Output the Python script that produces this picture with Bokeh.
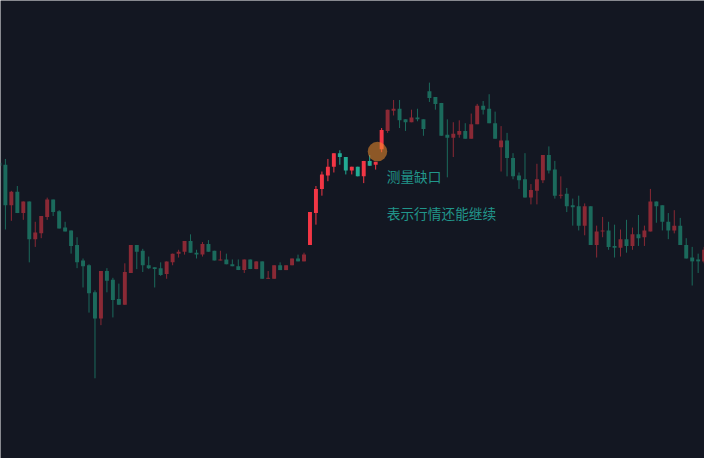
from bokeh.plotting import figure
from bokeh.models import Range1d, ColumnDataSource
from bokeh.core.properties import value
from bokeh.embed import file_html
from bokeh.resources import INLINE

# ---- data ----
opens = [30.6, 30.4, 26.2, 27.6, 25.4, 26.6, 22.7, 23.3, 25.0, 26.8,
         25.6, 23.9, 23.6, 22.1, 20.5, 20.0, 17.2, 14.5, 19.4, 18.5,
         16.5, 15.9, 19.2, 22.1, 21.5, 20.0, 19.8, 19.7, 19.1, 20.3,
         21.2, 21.4, 22.5, 21.3, 21.1, 22.2, 21.5, 20.5, 20.6, 20.1,
         19.9, 19.5, 20.6, 19.6, 20.4, 18.6, 18.6, 20.0, 19.5, 20.0,
         20.7, 20.4, 22.1, 25.4, 27.9, 29.3, 30.2, 31.6, 31.2, 29.8,
         30.2, 29.2, 30.8, 30.4, 32.0, 33.9, 36.0, 36.2, 35.1, 34.8,
         35.3, 35.1, 38.0, 37.4, 36.8, 33.5, 33.2, 33.5, 33.9, 33.1,
         34.6, 36.5, 36.2, 34.7, 32.2, 32.9, 31.1, 29.3, 28.9, 27.0,
         27.7, 28.8, 31.4, 29.9, 27.2, 27.4, 26.2, 26.1, 24.1, 26.1,
         22.1, 23.5, 23.6, 22.0, 21.8, 22.7, 22.0, 23.2, 22.9, 23.5,
         26.6, 26.2, 24.5, 23.6, 24.1, 22.1, 20.8, 20.6, 20.4]
highs = [30.8, 31.0, 27.7, 28.2, 26.6, 26.6, 24.5, 25.1, 27.0, 26.8,
         25.7, 24.5, 23.6, 22.9, 20.7, 20.1, 17.4, 19.4, 19.7, 18.7,
         18.1, 20.2, 22.1, 22.1, 21.7, 20.9, 19.8, 20.3, 20.4, 21.2,
         21.6, 22.5, 23.2, 21.6, 22.4, 22.6, 21.5, 21.5, 21.2, 20.6,
         20.6, 20.6, 20.6, 20.4, 20.4, 19.4, 20.0, 20.3, 20.0, 20.7,
         21.1, 21.3, 25.5, 28.2, 29.7, 31.0, 31.6, 31.9, 31.2, 30.2,
         30.2, 30.8, 31.4, 30.7, 34.2, 36.1, 37.1, 37.1, 35.1, 36.1,
         36.2, 35.1, 38.9, 37.4, 36.8, 35.1, 34.8, 35.0, 34.7, 35.7,
         36.7, 37.0, 37.7, 35.9, 34.4, 33.7, 31.6, 29.6, 31.6, 28.4,
         30.5, 31.4, 32.3, 30.8, 29.2, 28.0, 26.9, 27.2, 26.4, 26.1,
         24.1, 25.0, 24.5, 24.2, 23.7, 24.7, 23.9, 25.2, 24.1, 27.9,
         26.6, 26.2, 25.4, 25.7, 24.9, 22.8, 21.9, 21.2, 21.9]
lows = [30.1, 23.7, 24.6, 25.4, 24.7, 20.3, 21.9, 22.8, 24.7, 25.1,
        23.8, 23.5, 21.2, 19.7, 17.7, 15.1, 8.3, 13.8, 17.2, 14.6,
        15.9, 15.9, 19.2, 19.6, 19.3, 19.6, 17.7, 18.9, 18.6, 20.0,
        20.8, 21.1, 21.3, 20.7, 20.9, 21.4, 20.5, 20.5, 20.1, 19.9,
        19.5, 19.2, 19.6, 19.6, 18.6, 18.6, 18.6, 19.5, 19.5, 20.0,
        20.4, 20.4, 22.1, 24.2, 27.2, 28.7, 29.6, 30.4, 29.4, 29.4,
        29.2, 28.5, 30.3, 29.9, 31.7, 33.7, 35.5, 34.2, 33.9, 34.8,
        34.9, 33.4, 36.9, 36.1, 33.4, 29.1, 31.2, 33.2, 33.1, 33.1,
        34.6, 35.6, 34.7, 33.1, 29.7, 29.2, 28.9, 27.9, 27.0, 26.3,
        26.3, 28.5, 29.5, 26.9, 26.9, 25.5, 24.1, 23.6, 23.1, 22.1,
        20.8, 22.9, 21.6, 20.8, 20.9, 21.3, 21.6, 22.0, 22.0, 23.5,
        24.4, 23.6, 22.7, 23.3, 22.1, 20.7, 17.9, 19.2, 20.2]
closes = [30.3, 26.2, 27.6, 25.4, 26.6, 22.7, 23.4, 25.1, 26.8, 25.5,
          23.8, 23.5, 22.0, 20.3, 19.9, 17.1, 14.5, 19.4, 18.4, 16.4,
          15.9, 19.3, 22.1, 21.4, 20.0, 19.7, 19.6, 19.0, 20.4, 21.2,
          21.4, 22.5, 21.3, 21.1, 22.2, 21.4, 20.5, 20.6, 20.1, 19.9,
          19.5, 20.6, 19.6, 20.4, 18.6, 18.7, 20.0, 19.5, 20.0, 20.7,
          20.4, 21.1, 25.5, 27.9, 29.4, 30.2, 31.6, 31.2, 29.8, 30.2,
          29.2, 30.8, 30.3, 30.7, 34.0, 36.1, 36.2, 35.0, 34.8, 35.3,
          35.1, 34.1, 37.3, 36.7, 33.4, 33.2, 33.6, 33.9, 33.1, 34.6,
          36.5, 36.1, 34.7, 33.1, 32.9, 31.1, 29.2, 28.8, 27.0, 27.8,
          28.9, 31.4, 29.8, 27.2, 27.3, 26.1, 26.0, 24.1, 26.1, 22.1,
          23.5, 23.6, 21.9, 21.8, 22.7, 22.0, 23.2, 22.8, 23.6, 26.6,
          26.1, 24.5, 23.6, 24.1, 22.1, 20.7, 20.4, 20.4, 21.6]

# candles of the highlighted breakout leg
highlight_start = 52
highlight_end = 64

# annotation
gap_index = 63.3
gap_price = 31.77
label_index = 64.85
label_1 = "测量缺口"
label_1_price = 29.2
label_2 = "表示行情还能继续"
label_2_price = 25.4

# ---- styles ----
BG = "#131722"
UP = "#f23645"
DOWN = "#22ab94"
UP_DIM = "#8a2935"
DOWN_DIM = "#1b6a5c"
TEXT = "#21968b"

n = len(opens)
idx = list(range(n))
colors = []
for i in idx:
    up = closes[i] >= opens[i]
    bright = highlight_start <= i <= highlight_end
    if up:
        colors.append(UP if bright else UP_DIM)
    else:
        colors.append(DOWN if bright else DOWN_DIM)

src = ColumnDataSource(dict(
    x=idx,
    top=[max(o, c) for o, c in zip(opens, closes)],
    bottom=[min(o, c) for o, c in zip(opens, closes)],
    high=highs, low=lows, color=colors,
))

p = figure(width=704, height=458, output_backend="svg", toolbar_location=None,
           x_range=Range1d(0.181, 118.06), y_range=Range1d(0.0, 47.4),
           background_fill_color=BG, border_fill_color=BG,
           min_border=0, outline_line_color=None)
p.axis.visible = False
p.grid.visible = False

p.segment(x0="x", x1="x", y0="low", y1="high", line_color="color",
          line_width=1, source=src)
p.vbar(x="x", width=0.66, top="top", bottom="bottom", fill_color="color",
       line_color=None, source=src)

p.scatter([gap_index], [gap_price], size=19.5, marker="circle",
          fill_color="#f28e2c", fill_alpha=0.55, line_color=None)

p.text([label_index, label_index], [label_1_price, label_2_price],
       text=[label_1, label_2], text_color=TEXT,
       text_font=value("Noto Sans CJK SC"), text_font_size="13.7px",
       text_align="left", text_baseline="middle")

open("out.html", "w").write(file_html(p, INLINE))
